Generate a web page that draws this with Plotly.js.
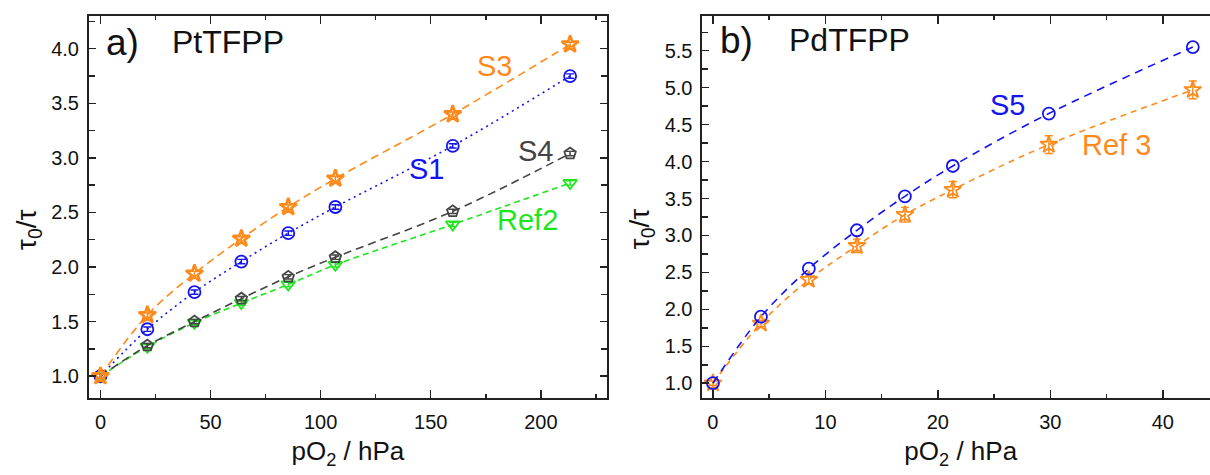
<!DOCTYPE html>
<html>
<head>
<meta charset="utf-8">
<script src="https://cdn.plot.ly/plotly-3.0.1.min.js"></script>
<style>
  html, body { margin: 0; padding: 0; overflow: hidden; background: #fff; }
  #chart { width: 1225px; height: 475px; }
</style>
</head>
<body>
<div id="chart"></div>
<script>
// Panel a: PtTFPP sensors, lifetime ratio versus oxygen partial pressure
const pO2_Pt = [0, 21.3, 42.7, 64.0, 85.3, 106.7, 160.0, 213.3];
const S3     = [1.00, 1.56, 1.94, 2.26, 2.55, 2.81, 3.40, 4.04];
const S1     = [1.00, 1.43, 1.77, 2.05, 2.31, 2.55, 3.11, 3.75];
const S4     = [1.00, 1.28, 1.50, 1.71, 1.91, 2.09, 2.51, 3.04];
const Ref2   = [1.00, 1.27, 1.49, 1.67, 1.84, 2.02, 2.39, 2.77];
const S3_err   = [0.02, 0.02, 0.02, 0.02, 0.02, 0.02, 0.02, 0.02];
const S1_err   = [0.02, 0.02, 0.02, 0.02, 0.02, 0.02, 0.02, 0.02];
const S4_err   = [0.02, 0.02, 0.02, 0.02, 0.02, 0.02, 0.02, 0.02];
const Ref2_err = [0.02, 0.02, 0.02, 0.02, 0.02, 0.02, 0.02, 0.02];

// Panel b: PdTFPP sensors
const pO2_Pd = [0, 4.27, 8.53, 12.8, 17.07, 21.33, 29.87, 42.67];
const S5     = [1.00, 1.90, 2.55, 3.07, 3.53, 3.94, 4.65, 5.55];
const Ref3   = [1.00, 1.81, 2.40, 2.86, 3.28, 3.62, 4.23, 4.97];
const Ref3_err = [0.03, 0.04, 0.05, 0.09, 0.10, 0.11, 0.12, 0.12];

const ORANGE = '#ff8a1c';
const BLUE   = '#1414f0';
const GRAY   = '#444444';
const GREEN  = '#1ee61e';
const FONT   = 'Liberation Sans, Arial, sans-serif';

function series(x, y, err, color, symbol, size, lw, dash, xa, ya) {
  const t = {
    type: 'scatter', mode: 'lines+markers', x: x, y: y,
    xaxis: xa, yaxis: ya, showlegend: false, cliponaxis: false,
    line: { color: color, width: 1.6, dash: dash, shape: 'spline', smoothing: 1 },
    marker: { symbol: symbol, size: size, color: color, line: { color: color, width: lw } },
    error_y: { visible: false }
  };
  if (err) {
    t.error_y = { type: 'data', array: err, visible: true, color: color, thickness: 1.4, width: 4 };
  }
  return t;
}

const traces = [
  series(pO2_Pt, Ref2, Ref2_err, GREEN, 'triangle-down-open', 12, 1.8, '6px,4px', 'x', 'y'),
  series(pO2_Pt, S4, S4_err, GRAY, 'pentagon-open', 12, 1.8, '8px,5px', 'x', 'y'),
  series(pO2_Pt, S1, S1_err, BLUE, 'circle-open', 12, 1.8, '2px,4px', 'x', 'y'),
  series(pO2_Pt, S3, S3_err, ORANGE, 'star-open', 13, 2.6, '8px,5px', 'x', 'y'),
  series(pO2_Pd, Ref3, Ref3_err, ORANGE, 'star-open', 13, 1.8, '6px,5px', 'x2', 'y2'),
  series(pO2_Pd, S5, null, BLUE, 'circle-open', 12, 1.8, '8px,6px', 'x2', 'y2')
];

function xAxis(range, dtick, minor, domain, anchor) {
  return {
    domain: domain, anchor: anchor, range: range, dtick: dtick, tick0: 0,
    showgrid: false, zeroline: false, showline: true, mirror: 'ticks',
    linecolor: '#222', linewidth: 2, ticks: 'inside', ticklen: 8, tickwidth: 1.5, tickcolor: '#222',
    minor: { dtick: minor, ticks: 'inside', ticklen: 4, tickwidth: 1.5, tickcolor: '#222', showgrid: false },
    ticklabelstandoff: 5,
    tickfont: { family: FONT, size: 20, color: '#111' },
    title: { text: 'pO<sub>2</sub> / hPa', font: { family: FONT, size: 26, color: '#111' }, standoff: 10 }
  };
}
function yAxis(range, domain, anchor) {
  return {
    domain: domain, anchor: anchor, range: range, dtick: 0.5, tick0: 0, tickformat: '.1f',
    showgrid: false, zeroline: false, showline: true, mirror: 'ticks',
    linecolor: '#222', linewidth: 2, ticks: 'inside', ticklen: 7, tickwidth: 1.5, tickcolor: '#222',
    minor: { dtick: 0.25, ticks: 'inside', ticklen: 6, tickwidth: 1.5, tickcolor: '#222', showgrid: false },
    ticklabelstandoff: 4,
    tickfont: { family: FONT, size: 20, color: '#111' }
  };
}

function label(text, x, y, xref, yref, color, size, xanchor) {
  return { text: text, x: x, y: y, xref: xref, yref: yref, showarrow: false,
           xanchor: xanchor || 'center', yanchor: 'middle',
           font: { family: FONT, size: size, color: color } };
}
// Vertical axis titles, set a little below the axis centre
function yTitle(x) {
  return { text: 'τ<sub>0</sub>/τ', x: x, y: 0.442, xref: 'paper', yref: 'paper',
           showarrow: false, textangle: -90, xanchor: 'center', yanchor: 'middle',
           font: { family: FONT, size: 28, color: '#111' } };
}

const layout = {
  width: 1225, height: 475,
  margin: { l: 89, r: 6, t: 16, b: 77 },
  paper_bgcolor: '#fff', plot_bgcolor: '#fff',
  xaxis:  xAxis([-5.2, 230], 50, 25, [0, 0.4583], 'y'),
  yaxis:  yAxis([0.8, 4.3], [0, 1], 'x'),
  xaxis2: xAxis([-0.93, 45], 10, 5, [0.5429, 1], 'y2'),
  yaxis2: yAxis([0.8, 5.97], [0, 1], 'x2'),
  annotations: [
    yTitle(-0.054),
    yTitle(0.4887),
    label('a)', 1.8, 4.06, 'x', 'y', '#111', 37, 'left'),
    label('PtTFPP', 31.6, 4.06, 'x', 'y', '#111', 32, 'left'),
    label('S3', 178.9, 3.84, 'x', 'y', ORANGE, 29),
    label('S1', 148, 2.90, 'x', 'y', BLUE, 29),
    label('S4', 197.5, 3.06, 'x', 'y', GRAY, 29),
    label('Ref2', 193.9, 2.43, 'x', 'y', GREEN, 29),
    label('b)', 0.43, 5.64, 'x2', 'y2', '#111', 37, 'left'),
    label('PdTFPP', 6.6, 5.64, 'x2', 'y2', '#111', 32, 'left'),
    label('S5', 26.2, 4.77, 'x2', 'y2', BLUE, 29),
    label('Ref 3', 35.9, 4.22, 'x2', 'y2', ORANGE, 29)
  ]
};

Plotly.newPlot('chart', traces, layout, { staticPlot: true, displayModeBar: false });
</script>
</body>
</html>
